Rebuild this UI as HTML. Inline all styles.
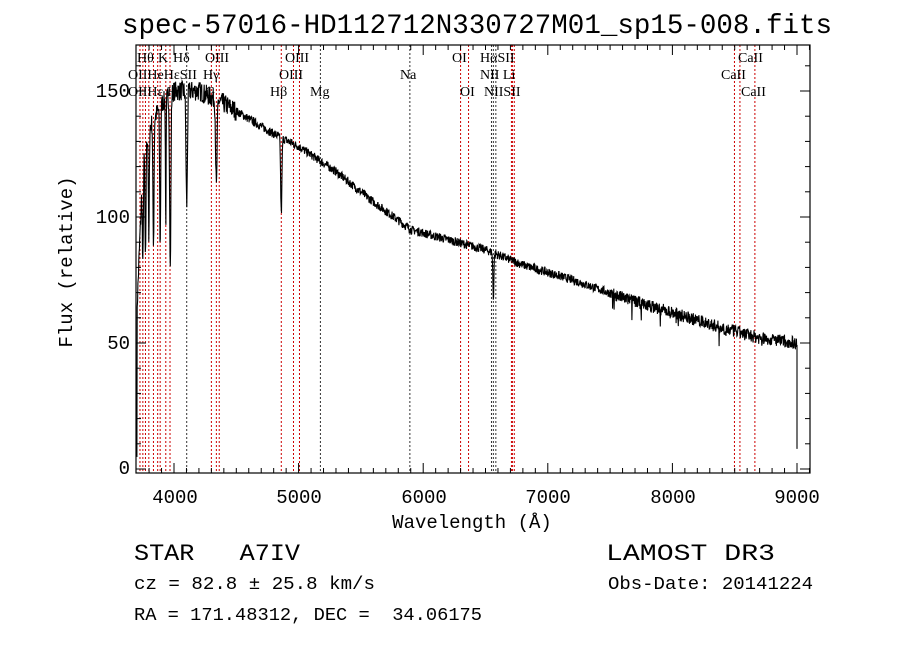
<!DOCTYPE html>
<html><head><meta charset="utf-8"><style>
body{margin:0;background:#fff;}
svg text{font-family:"Liberation Serif",serif;fill:#000;white-space:pre;}
.m{font-family:"Liberation Mono",monospace !important;}
</style></head><body>
<svg id="s" width="900" height="649" xmlns="http://www.w3.org/2000/svg" xml:space="preserve">
<rect width="900" height="649" fill="#fff"/>
<g id="lines"></g>
<path id="spec" fill="none" stroke="#000" stroke-width="1.1"/>
<rect x="136" y="45" width="674" height="428" fill="none" stroke="#000" stroke-width="1.2"/>
<g id="ticks" stroke="#000" stroke-width="1"></g>
<g id="lab" font-size="14"></g>
<text x="122" y="33" class="m" font-size="28" textLength="710" lengthAdjust="spacingAndGlyphs">spec-57016-HD112712N330727M01_sp15-008.fits</text>
<text x="472" y="528" class="m" font-size="19" text-anchor="middle">Wavelength (Å)</text>
<text class="m" font-size="19" text-anchor="middle" transform="translate(72,262) rotate(-90)">Flux (relative)</text>
<g class="m" font-size="19" text-anchor="middle">
<text x="175" y="503" class="m">4000</text><text x="299" y="503" class="m">5000</text><text x="424" y="503" class="m">6000</text><text x="548" y="503" class="m">7000</text><text x="673" y="503" class="m">8000</text><text x="797" y="503" class="m">9000</text>
</g>
<g class="m" font-size="19" text-anchor="end">
<text x="130" y="474" class="m">0</text><text x="130" y="349" class="m">50</text><text x="130" y="223" class="m">100</text><text x="130" y="97" class="m">150</text>
</g>
<text x="134" y="560" class="m" font-size="23" textLength="166" lengthAdjust="spacingAndGlyphs">STAR   A7IV</text>
<text x="134" y="589" class="m" font-size="18" textLength="241" lengthAdjust="spacingAndGlyphs">cz = 82.8 ± 25.8 km/s</text>
<text x="134" y="620" class="m" font-size="18" textLength="348" lengthAdjust="spacingAndGlyphs">RA = 171.48312, DEC =  34.06175</text>
<text x="606" y="560" class="m" font-size="23" textLength="169" lengthAdjust="spacingAndGlyphs">LAMOST DR3</text>
<text x="608" y="589" class="m" font-size="18" textLength="205" lengthAdjust="spacingAndGlyphs">Obs-Date: 20141224</text>
</svg>
<script>
var X=l=>174+(l-4000)*0.1246, Y=f=>469-f*2.52;
var ns="http://www.w3.org/2000/svg";
function el(p,t,a,txt){var e=document.createElementNS(ns,t);for(var k in a)e.setAttribute(k,a[k]);if(txt)e.textContent=txt;document.getElementById(p).appendChild(e);}
var L=[[3727,'r'],[3750,'r'],[3771,'r'],[3798,'r'],[3835,'r'],[3869,'r'],[3889,'r'],[3934,'r'],[3968,'r'],[4102,'k'],[4300,'r'],[4340,'r'],[4363,'r'],[4861,'r'],[4959,'r'],[5007,'r'],[5175,'k'],[5893,'k'],[6300,'r'],[6364,'r'],[6548,'k'],[6563,'k'],[6583,'k'],[6708,'r'],[6716,'r'],[6731,'r'],[8498,'r'],[8542,'r'],[8662,'r']];
L.forEach(a=>{var x=X(a[0]);el('lines','line',{x1:x,x2:x,y1:45,y2:473,stroke:a[1]=='r'?'#c00':'#333','stroke-dasharray':'2,2','stroke-width':1});});
for(var w=3800;w<=9100;w+=100){var x=X(w),big=w%1000==0;el('ticks','line',{x1:x,x2:x,y1:473,y2:big?463:468});el('ticks','line',{x1:x,x2:x,y1:45,y2:big?55:50});}
for(var f=0;f<=165;f+=10){var y=Y(f),big=f%50==0;el('ticks','line',{x1:136,x2:big?146:141,y1:y,y2:y});el('ticks','line',{x1:810,x2:big?800:805,y1:y,y2:y});}
var T=[[137,62,'Hθ'],[158,62,'K'],[173,62,'Hδ'],[205,62,'OIII'],[285,62,'OIII'],[452,62,'OI'],[480,62,'HαSII'],[738,62,'CaII'],
[128,79,'OIIHeHεSII'],[203,79,'Hγ'],[279,79,'OIII'],[400,79,'Na'],[480,79,'NII Li'],[721,79,'CaII'],
[128,96,'OIIHε H'],[205,96,'G'],[270,96,'Hβ'],[310,96,'Mg'],[460,96,'OI'],[484,96,'NIISII'],[741,96,'CaII']];
T.forEach(t=>el('lab','text',{x:t[0],y:t[1]},t[2]));
var C=[[3700,60],[3750,120],[3800,135],[3900,145],[4000,150],[4200,150],[4400,145],[4600,139],[4800,133],[5000,128],[5300,118],[5600,106],[5900,95],[6200,91],[6500,87],[6800,81],[7200,75],[7600,68],[8000,62],[8400,56],[8700,52],[9000,50]];
function cont(l){for(var i=0;i<C.length-1;i++)if(l<=C[i+1][0]){var t=(l-C[i][0])/(C[i+1][0]-C[i][0]);return C[i][1]+t*(C[i+1][1]-C[i][1]);}return 50;}
var A=[[3750,40,5],[3771,45,5],[3798,45,5],[3835,50,6],[3889,55,6],[3934,50,4],[3970,70,7],[4102,45,8],[4340,35,8],[4861,30,7],[6563,18,6]];
var s=7,d='';function rnd(){s=(s*16807)%2147483647;return s/2147483647-0.5;}
for(var l=3700;l<=9000;l+=2.5){var f=cont(l);A.forEach(a=>{f-=a[1]*Math.exp(-Math.pow((l-a[0])/a[2],2));});
f+=rnd()*(l<4500?8:l>7500?5:3.5);if(l>7500&&rnd()>0.47)f-=8*(rnd()+0.5);if(l<3705)f=5;
d+=(d?'L':'M')+X(l).toFixed(1)+','+Y(f).toFixed(1);}
d+='L'+X(9000)+','+Y(45)+'L'+X(9000)+','+Y(8);
document.getElementById('spec').setAttribute('d',d);
</script>
</body></html>
